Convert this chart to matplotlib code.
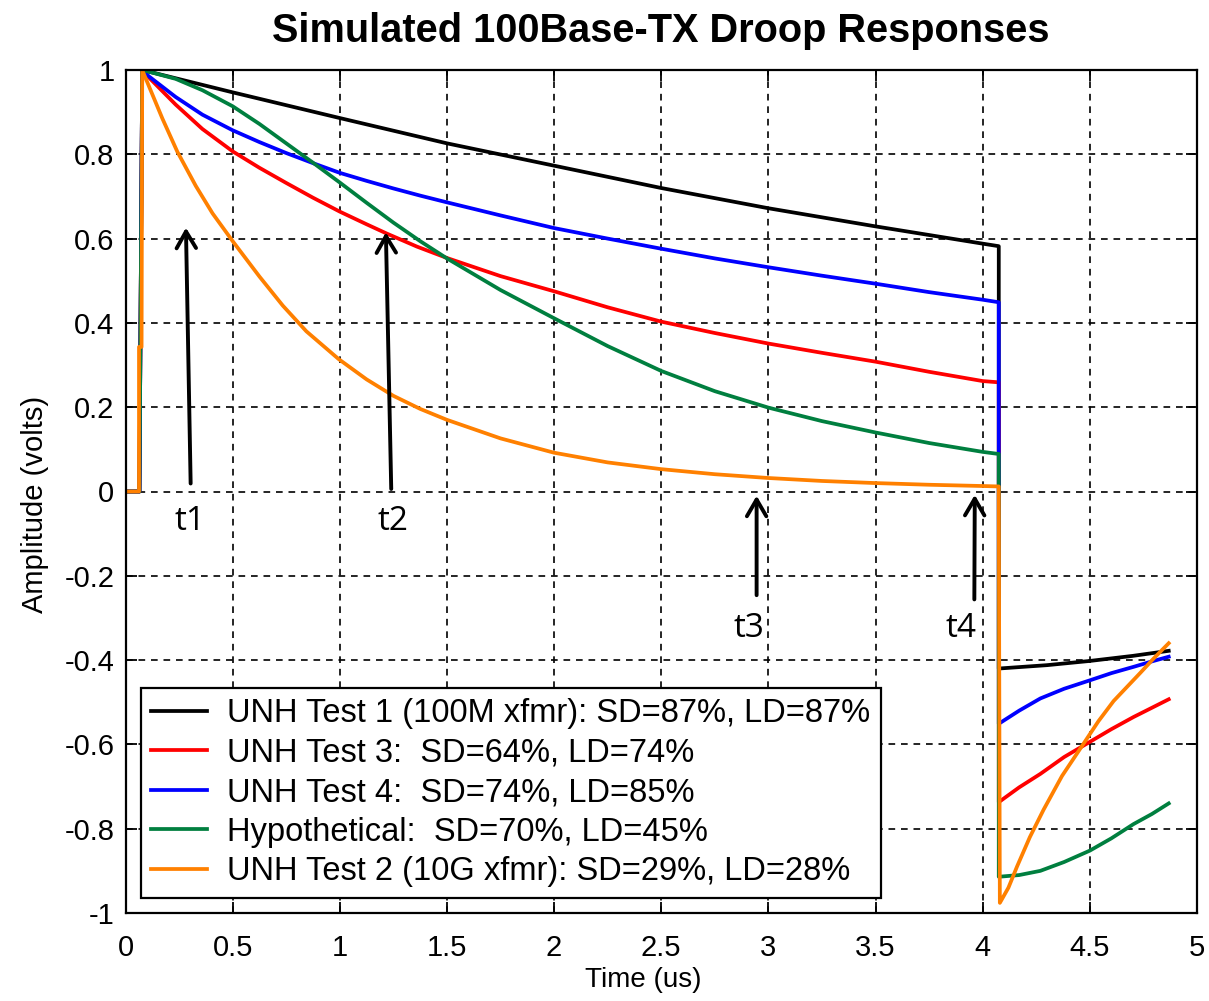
import matplotlib
matplotlib.use("Agg")
import matplotlib.pyplot as plt

# ---------------- data ----------------
black_x = [0, 0.065, 0.078, 0.5, 1.0, 1.5, 2.0, 2.5, 3.0, 3.5, 4.0, 4.075,
           4.075, 4.3, 4.5, 4.7, 4.868]
black_y = [0, 0, 1.0, 0.947, 0.886, 0.826, 0.773, 0.72, 0.672, 0.629, 0.588, 0.582,
           -0.42, -0.412, -0.402, -0.39, -0.378]

red_x = [0, 0.065, 0.078, 0.094, 0.234, 0.359, 0.5, 0.625, 0.75, 0.875, 1.0, 1.125, 1.219, 1.36, 1.5,
         1.75, 2.0, 2.25, 2.5, 2.75, 3.0, 3.25, 3.5, 3.75, 4.0, 4.075,
         4.075, 4.17, 4.269, 4.38, 4.5, 4.6, 4.704, 4.79, 4.868]
red_y = [0, 0, 1.0, 0.99, 0.918, 0.86, 0.807, 0.768, 0.732, 0.697, 0.664, 0.634, 0.612, 0.581, 0.554,
         0.511, 0.475, 0.437, 0.403, 0.376, 0.351, 0.329, 0.308, 0.284, 0.262, 0.259,
         -0.737, -0.702, -0.67, -0.63, -0.594, -0.564, -0.535, -0.513, -0.493]

blue_x = [0, 0.065, 0.078, 0.109, 0.234, 0.359, 0.5, 0.625, 0.75, 0.875, 1.0, 1.125, 1.25, 1.375, 1.5,
          1.75, 2.0, 2.25, 2.5, 2.75, 3.0, 3.25, 3.5, 3.75, 4.0, 4.075,
          4.075, 4.17, 4.269, 4.38, 4.5, 4.6, 4.704, 4.79, 4.868]
blue_y = [0, 0, 1.0, 0.985, 0.936, 0.894, 0.857, 0.829, 0.803, 0.779, 0.756, 0.737, 0.719, 0.702, 0.686,
          0.655, 0.625, 0.6, 0.576, 0.553, 0.532, 0.512, 0.493, 0.473, 0.455, 0.449,
          -0.551, -0.52, -0.491, -0.468, -0.448, -0.431, -0.416, -0.403, -0.392]

green_x = [0, 0.065, 0.078, 0.094, 0.234, 0.359, 0.5, 0.625, 0.75, 0.875, 1.0, 1.125, 1.25, 1.375, 1.5,
           1.75, 2.0, 2.25, 2.5, 2.75, 3.0, 3.25, 3.5, 3.75, 4.0, 4.075,
           4.075, 4.17, 4.269, 4.38, 4.5, 4.6, 4.704, 4.79, 4.868]
green_y = [0, 0, 1.0, 0.998, 0.979, 0.952, 0.914, 0.872, 0.826, 0.78, 0.733, 0.685, 0.638, 0.594, 0.553,
           0.478, 0.411, 0.345, 0.286, 0.238, 0.199, 0.167, 0.14, 0.115, 0.094, 0.089,
           -0.914, -0.91, -0.9, -0.879, -0.852, -0.823, -0.789, -0.765, -0.74]

orange_x = [0, 0.063, 0.063, 0.075, 0.078, 0.109, 0.172, 0.242, 0.328, 0.406, 0.5, 0.625, 0.734, 0.844, 0.995,
            1.125, 1.25, 1.375, 1.5, 1.75, 2.0, 2.25, 2.5, 2.75, 3.0, 3.25, 3.5, 3.75, 4.0, 4.075,
            4.08, 4.12, 4.16, 4.22, 4.284, 4.37, 4.471, 4.54, 4.611, 4.68, 4.736, 4.8, 4.868]
orange_y = [0, 0, 0.343, 0.343, 1.0, 0.962, 0.885, 0.806, 0.725, 0.66, 0.594, 0.51, 0.441, 0.38, 0.314,
            0.266, 0.227, 0.196, 0.17, 0.126, 0.092, 0.069, 0.053, 0.041, 0.032, 0.025, 0.02, 0.016, 0.013, 0.012,
            -0.976, -0.94, -0.89, -0.82, -0.755, -0.675, -0.598, -0.545, -0.497, -0.46, -0.43, -0.395, -0.36]

series_labels = [
    "UNH Test 1 (100M xfmr): SD=87%, LD=87%",
    "UNH Test 3:  SD=64%, LD=74%",
    "UNH Test 4:  SD=74%, LD=85%",
    "Hypothetical:  SD=70%, LD=45%",
    "UNH Test 2 (10G xfmr): SD=29%, LD=28%",
]
series_colors = ["#000000", "#FF0000", "#0000FF", "#007F3F", "#FF8000"]

x_ticks = [0, 0.5, 1, 1.5, 2, 2.5, 3, 3.5, 4, 4.5, 5]
x_tick_labels = ["0", "0.5", "1", "1.5", "2", "2.5", "3", "3.5", "4", "4.5", "5"]
y_ticks = [-1, -0.8, -0.6, -0.4, -0.2, 0, 0.2, 0.4, 0.6, 0.8, 1]
y_tick_labels = ["-1", "-0.8", "-0.6", "-0.4", "-0.2", "0", "0.2", "0.4", "0.6", "0.8", "1"]

# annotation arrows: (label, tail, head, label position)
marker_names = ["t1", "t2", "t3", "t4"]
marker_tail = [(0.304, 0.019), (1.240, 0.006), (2.945, -0.246), (3.961, -0.256)]
marker_head = [(0.282, 0.626), (1.215, 0.615), (2.945, -0.010), (3.963, -0.008)]
marker_text = [(0.303, -0.072), (1.249, -0.072), (2.91, -0.325), (3.90, -0.325)]

# ---------------- figure ----------------
plt.rcParams["font.family"] = ["Liberation Sans", "DejaVu Sans"]

fig = plt.figure(figsize=(12.09, 10.01), dpi=100)
ax = fig.add_axes([125.5 / 1209, 88 / 1001, (1197 - 125.5) / 1209, (913 - 70) / 1001])

all_x = [black_x, red_x, blue_x, green_x, orange_x]
all_y = [black_y, red_y, blue_y, green_y, orange_y]
for i, (xs, ys) in enumerate(zip(all_x, all_y)):
    ax.plot(xs, ys, color=series_colors[i], lw=2.7, label=series_labels[i],
            solid_joinstyle="round", zorder=3 + i)

ax.set_xlim(0, 5)
ax.set_ylim(-1, 1)
ax.set_xticks(x_ticks)
ax.set_xticklabels(x_tick_labels)
ax.set_yticks(y_ticks)
ax.set_yticklabels(y_tick_labels)
ax.grid(True, color="black", linestyle=(0, (4, 3.5)), linewidth=1.2, zorder=1)
ax.tick_params(direction="in", length=8, width=1.3, top=True, right=True,
               labelsize=21, colors="black")
ax.tick_params(axis="x", pad=15)
ax.tick_params(axis="y", pad=8)
for s in ax.spines.values():
    s.set_linewidth(1.6)
    s.set_zorder(10)

ax.set_title("Simulated 100Base-TX Droop Responses", fontsize=28.6, fontweight="bold", pad=20)
ax.set_xlabel("Time (us)", fontsize=20)
ax.set_ylabel("Amplitude (volts)", fontsize=21)
ax.xaxis.set_label_coords((643 - 125.5) / 1071.5, -(980 - 913) / 843)
ax.yaxis.set_label_coords(-(125.5 - 35) / 1071.5, (913 - 504) / 843)
ax.xaxis.label.set_va("center")
ax.yaxis.label.set_va("center")

leg = ax.legend(loc="lower left", bbox_to_anchor=(0.0145, 0.018), borderaxespad=0,
                fontsize=23.5, frameon=True, fancybox=False, edgecolor="black", framealpha=1,
                handlelength=1.7, handletextpad=0.62, labelspacing=0.26, borderpad=0.32)
leg.get_frame().set_linewidth(1.6)
leg.set_zorder(20)

for name, tail, head, tpos in zip(marker_names, marker_tail, marker_head, marker_text):
    ax.annotate("", xy=head, xytext=tail,
                arrowprops=dict(arrowstyle="->,head_length=0.6,head_width=0.35",
                                lw=2.8, color="black", shrinkA=0, shrinkB=0,
                                mutation_scale=20), zorder=15)
    ax.text(tpos[0], tpos[1], name, fontsize=24, family=["Open Sans", "DejaVu Sans"],
            ha="center", va="center", zorder=15)

fig.savefig("out.png", dpi=100)
